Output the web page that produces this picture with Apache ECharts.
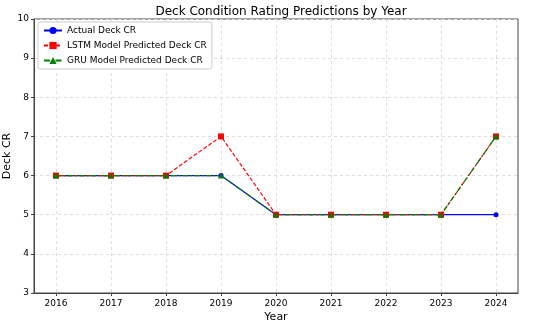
<!DOCTYPE html>
<html><head><meta charset="utf-8">
<script src="https://cdn.jsdelivr.net/npm/echarts@6/dist/echarts.min.js"></script>
<style>html,body{margin:0;padding:0;background:#fff}#c{width:550px;height:327px}</style>
</head><body><div id="c"></div>
<script>
const years = [2016, 2017, 2018, 2019, 2020, 2021, 2022, 2023, 2024];
const actual = [6, 6, 6, 6, 5, 5, 5, 5, 5];
const lstm = [6, 6, 6, 7, 5, 5, 5, 5, 7];
const gru = [6, 6, 6, 6, 5, 5, 5, 5, 7];

const pair = arr => years.map((y, i) => [y, arr[i]]);
const font = 'DejaVu Sans';
const chart = echarts.init(document.getElementById('c'));
chart.setOption({
  animation: false,
  title: {
    text: 'Deck Condition Rating Predictions by Year',
    left: 276, top: 1, textAlign: 'center',
    textStyle: {fontFamily: font, fontSize: 12, fontWeight: 'normal', color: '#000'}
  },
  legend: {
    left: 38, top: 22, orient: 'vertical', itemGap: 6,
    itemWidth: 18, itemHeight: 9,
    backgroundColor: '#fff', borderColor: '#ccc', borderWidth: 1, borderRadius: 2,
    padding: [4, 5, 4, 5],
    textStyle: {fontFamily: font, fontSize: 9, color: '#000'},
    data: ['Actual Deck CR', 'LSTM Model Predicted Deck CR', 'GRU Model Predicted Deck CR']
  },
  grid: {left: 34, right: 32, top: 19, bottom: 34, outerBoundsMode: 'none', containLabel: false,
    show: true, borderColor: '#444', borderWidth: 1},
  xAxis: {
    type: 'value', min: 2015.6, max: 2024.4,
    name: 'Year', nameLocation: 'middle', nameGap: 19, nameMoveOverlap: false,
    nameTextStyle: {fontFamily: font, fontSize: 11, color: '#000'},
    axisLine: {show: true, lineStyle: {color: '#444'}},
    axisTick: {show: true, customValues: years, length: 3, lineStyle: {color: '#444'}},
    axisLabel: {customValues: years, formatter: v => String(v), fontFamily: font, fontSize: 9, color: '#000', margin: 6},
    splitLine: {show: true, lineStyle: {color: '#ddd', type: [3, 3]}}
  },
  yAxis: {
    type: 'value', min: 3, max: 10, interval: 1,
    name: 'Deck CR', nameLocation: 'middle', nameGap: 21, nameRotate: 90, nameMoveOverlap: false,
    nameTextStyle: {fontFamily: font, fontSize: 11, color: '#000'},
    axisLine: {show: true, lineStyle: {color: '#444'}},
    axisTick: {show: true, length: 3, lineStyle: {color: '#444'}},
    axisLabel: {showMinLabel: true, showMaxLabel: true, fontFamily: font, fontSize: 9, color: '#000', margin: 5},
    splitLine: {show: true, lineStyle: {color: '#ddd', type: [3, 3]}}
  },
  series: [
    {name: 'Actual Deck CR', type: 'line', data: pair(actual), symbol: 'circle', symbolSize: 5,
      itemStyle: {color: '#0000ff'}, lineStyle: {color: '#0000ff', width: 1.2}},
    {name: 'LSTM Model Predicted Deck CR', type: 'line', data: pair(lstm), symbol: 'rect', symbolSize: 6,
      itemStyle: {color: '#ff0000'}, lineStyle: {color: '#ff0000', width: 1.2, type: [4, 2]}},
    {name: 'GRU Model Predicted Deck CR', type: 'line', data: pair(gru), symbol: 'triangle', symbolSize: 6,
      itemStyle: {color: '#008000'}, lineStyle: {color: '#008000', width: 1.2, type: [6, 2, 1.5, 2]}}
  ]
});
</script></body></html>
